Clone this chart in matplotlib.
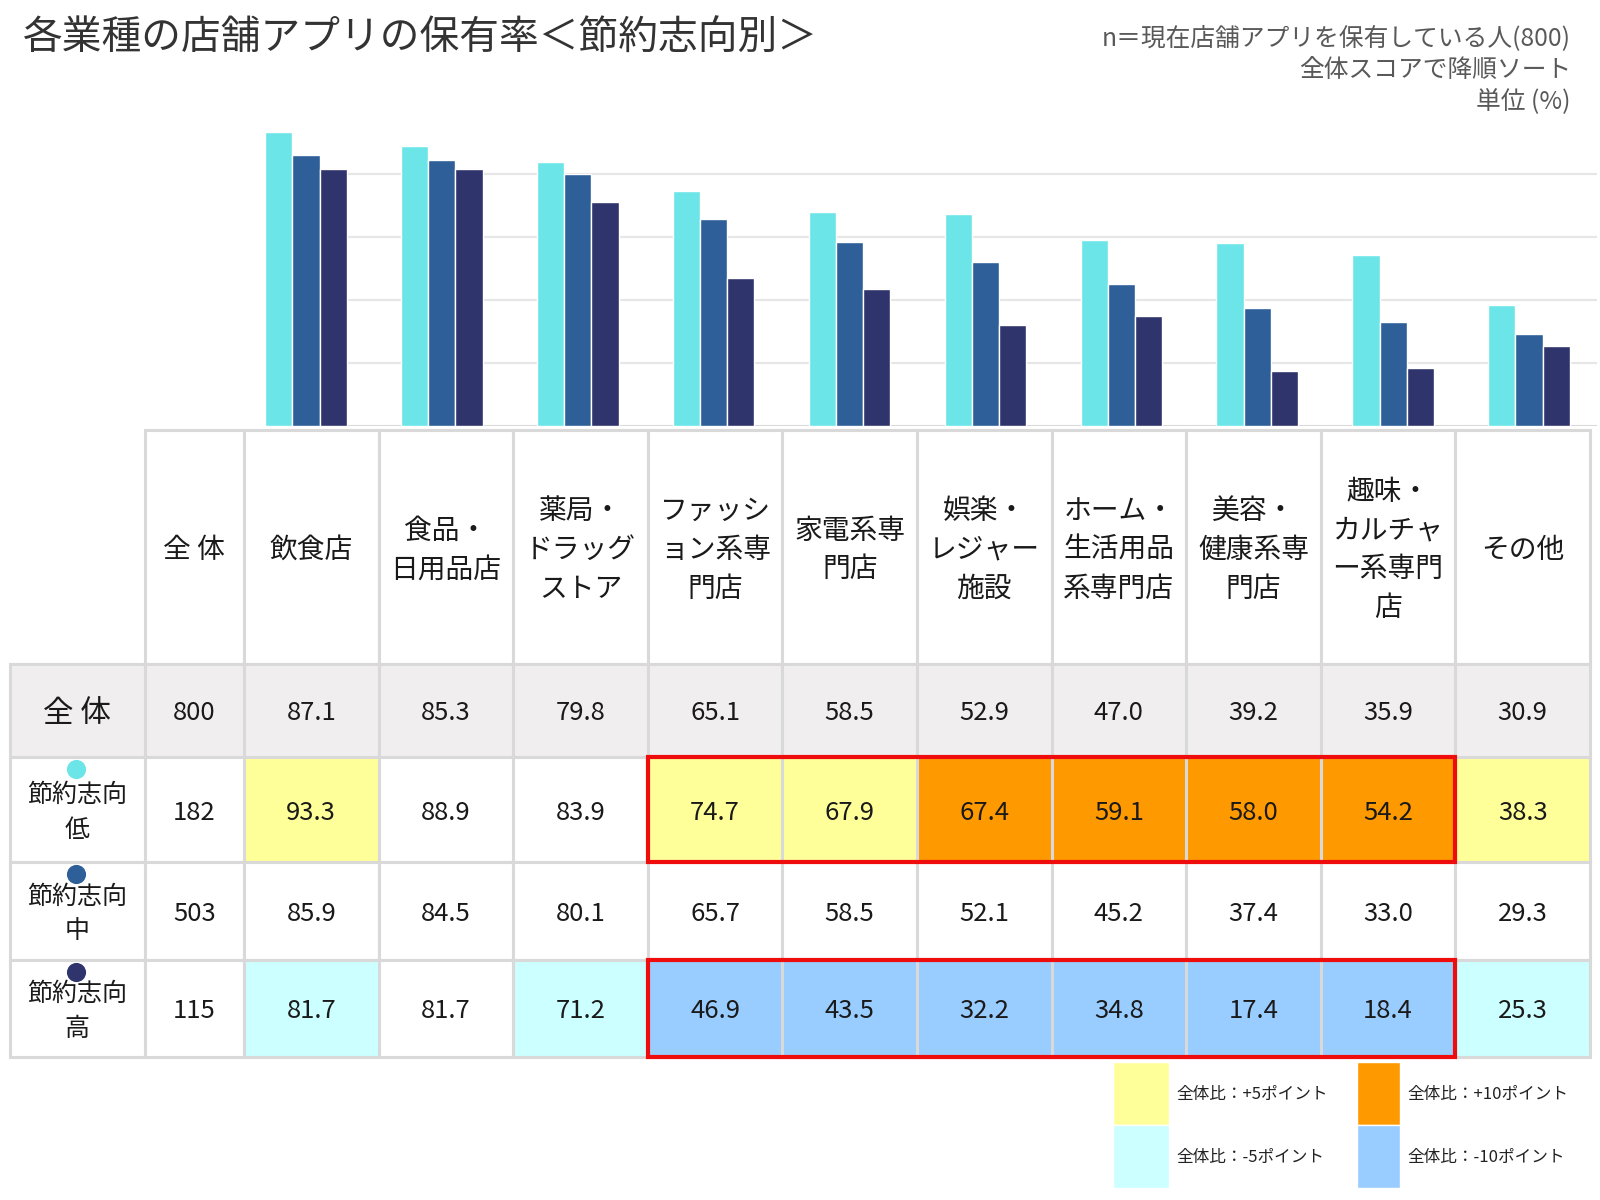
import numpy as np
import matplotlib.pyplot as plt
from matplotlib.patches import Rectangle

plt.rcParams['font.family'] = ['Noto Sans CJK JP', 'DejaVu Sans']

#-------------------------------------------------------------------
# data
#-------------------------------------------------------------------
categories = ['飲食店', '食品・\n日用品店', '薬局・\nドラッグ\nストア', 'ファッシ\nョン系専\n門店',
              '家電系専\n門店', '娯楽・\nレジャー\n施設', 'ホーム・\n生活用品\n系専門店',
              '美容・\n健康系専\n門店', '趣味・\nカルチャ\nー系専門\n店', 'その他']
row_labels = ['全 体', '節約志向\n低', '節約志向\n中', '節約志向\n高']
row_n = [800, 182, 503, 115]

total = [87.1, 85.3, 79.8, 65.1, 58.5, 52.9, 47.0, 39.2, 35.9, 30.9]
low = [93.3, 88.9, 83.9, 74.7, 67.9, 67.4, 59.1, 58.0, 54.2, 38.3]
mid = [85.9, 84.5, 80.1, 65.7, 58.5, 52.1, 45.2, 37.4, 33.0, 29.3]
high = [81.7, 81.7, 71.2, 46.9, 43.5, 32.2, 34.8, 17.4, 18.4, 25.3]

series = [low, mid, high]
series_colors = ['#6ce5e8', '#2e5f99', '#30346c']

# highlighted block (category index range) for rows 低 and 高
box_cols = (3, 8)
box_rows = [1, 3]

#-------------------------------------------------------------------
# colours for the diff vs 全体
#-------------------------------------------------------------------
def diff_color(v, base):
    d = v - base
    if d >= 10:
        return '#ff9900'
    if d >= 5:
        return '#ffff99'
    if d <= -10:
        return '#99ccff'
    if d <= -5:
        return '#ccffff'
    return 'white'

#-------------------------------------------------------------------
fig = plt.figure(figsize=(16, 12), dpi=100)
W, H = 1600, 1200

# bar chart
ax = fig.add_axes([238 / W, 1 - 426 / H, 1359 / W, 315 / H])
x = np.arange(len(categories))
bw = 0.2
for k, (vals, c) in enumerate(zip(series, series_colors)):
    ax.bar(x + (k - 1) * bw, vals, width=bw, color=c, edgecolor='white', linewidth=1, zorder=3)
ax.hlines([20, 40, 60, 80], -1.5 * bw, 9.5, color='#e6e6e6', linewidth=1.5, zorder=1)
ax.hlines([0], -1.5 * bw, 9.5, color='#d9d9d9', linewidth=1.5, zorder=1)
ax.set_xlim(-0.5, 9.5)
ax.set_ylim(0, 100)
ax.axis('off')

# table (pixel coordinates on an overlay axes)
tab = fig.add_axes([0, 0, 1, 1])
tab.set_xlim(0, W)
tab.set_ylim(H, 0)
tab.axis('off')

col_w = 134.6
col_edges = [10, 144.5, 244] + [244 + col_w * k for k in range(1, len(categories) + 1)]
row_edges = [430, 664, 757, 862, 960, 1057]
border = '#d9d9d9'

def cell(c0, r0, face, txt=None, size=18.5, ls=1.3):
    x0, x1 = col_edges[c0], col_edges[c0 + 1]
    y0, y1 = row_edges[r0], row_edges[r0 + 1]
    tab.add_patch(Rectangle((x0, y0), x1 - x0, y1 - y0, facecolor=face,
                            edgecolor=border, linewidth=2.2, zorder=2))
    if txt is not None:
        tab.text((x0 + x1) / 2, (y0 + y1) / 2 + 3, txt, ha='center', va='center',
                 fontsize=size, color='#1a1a1a', linespacing=ls, zorder=4)

# header row
cell(1, 0, 'white', '全 体', size=20)
for j, name in enumerate(categories):
    cell(j + 2, 0, 'white', name, size=20, ls=1.38)

# body rows
body = [total, low, mid, high]
for i, vals in enumerate(body):
    r = i + 1
    face0 = '#f0eeef' if i == 0 else 'white'
    if i == 0:
        cell(0, r, face0, row_labels[i], size=22)
    else:
        cell(0, r, face0, row_labels[i], size=18, ls=1.45)
    cell(1, r, face0, str(row_n[i]))
    for j, v in enumerate(vals):
        face = face0 if i == 0 else diff_color(v, total[j])
        cell(j + 2, r, face, f'{v:.1f}')

# coloured dots above the row labels
for i, c in enumerate(series_colors):
    y0 = row_edges[i + 2]
    tab.scatter([(col_edges[0] + col_edges[1]) / 2 - 1], [y0 + 12], s=190, color=c,
                zorder=5, linewidths=0)

# red boxes
for r in box_rows:
    x0 = col_edges[box_cols[0] + 2]
    x1 = col_edges[box_cols[1] + 3]
    y0, y1 = row_edges[r + 1], row_edges[r + 2]
    tab.add_patch(Rectangle((x0, y0), x1 - x0, y1 - y0, facecolor='none',
                            edgecolor='#ee0c0c', linewidth=3, zorder=6))

# legend
legend_items = [('#ffff99', '全体比：+5ポイント', 1113, 1062, 56),
                ('#ccffff', '全体比：-5ポイント', 1113, 1125, 56),
                ('#ff9900', '全体比：+10ポイント', 1357, 1062, 43),
                ('#99ccff', '全体比：-10ポイント', 1357, 1125, 43)]
for c, label, lx, ly, lw in legend_items:
    tab.add_patch(Rectangle((lx, ly), lw, 63, facecolor=c, edgecolor='white', linewidth=1))
    tab.text(lx + lw + 7, ly + 32, label, ha='left', va='center', fontsize=12, color='#222222')

# titles
tab.text(23, 39, '各業種の店舗アプリの保有率＜節約志向別＞', ha='left', va='center',
         fontsize=28.6, color='#333333')
tab.text(1571, 38, 'n＝現在店舗アプリを保有している人(800)', ha='right', va='center',
         fontsize=17.8, color='#595959')
tab.text(1571, 70, '全体スコアで降順ソート', ha='right', va='center',
         fontsize=17.8, color='#595959')
tab.text(1571, 102, '単位 (%)', ha='right', va='center',
         fontsize=17.8, color='#595959')

fig.savefig('out.png', dpi=100)
